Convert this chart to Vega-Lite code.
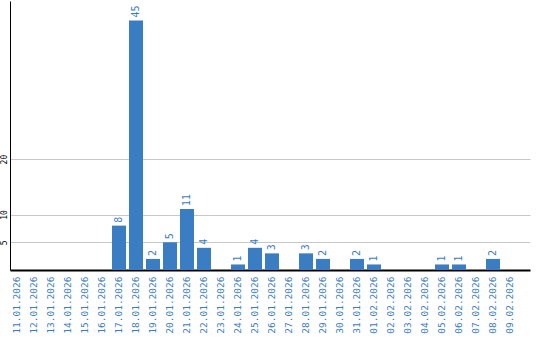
{
  "$schema": "https://vega.github.io/schema/vega-lite/v6.json",
  "width": 520,
  "height": 269,
  "autosize": "none",
  "padding": {"left": 10, "top": 1, "right": 10, "bottom": 70},
  "background": "white",
  "config": {"view": {"stroke": null}},
  "data": {"values": [
    {"date": "11.01.2026", "value": 0},
    {"date": "12.01.2026", "value": 0},
    {"date": "13.01.2026", "value": 0},
    {"date": "14.01.2026", "value": 0},
    {"date": "15.01.2026", "value": 0},
    {"date": "16.01.2026", "value": 0},
    {"date": "17.01.2026", "value": 8},
    {"date": "18.01.2026", "value": 45},
    {"date": "19.01.2026", "value": 2},
    {"date": "20.01.2026", "value": 5},
    {"date": "21.01.2026", "value": 11},
    {"date": "22.01.2026", "value": 4},
    {"date": "23.01.2026", "value": 0},
    {"date": "24.01.2026", "value": 1},
    {"date": "25.01.2026", "value": 4},
    {"date": "26.01.2026", "value": 3},
    {"date": "27.01.2026", "value": 0},
    {"date": "28.01.2026", "value": 3},
    {"date": "29.01.2026", "value": 2},
    {"date": "30.01.2026", "value": 0},
    {"date": "31.01.2026", "value": 2},
    {"date": "01.02.2026", "value": 1},
    {"date": "02.02.2026", "value": 0},
    {"date": "03.02.2026", "value": 0},
    {"date": "04.02.2026", "value": 0},
    {"date": "05.02.2026", "value": 1},
    {"date": "06.02.2026", "value": 1},
    {"date": "07.02.2026", "value": 0},
    {"date": "08.02.2026", "value": 2},
    {"date": "09.02.2026", "value": 0}
  ]},
  "encoding": {
    "x": {
      "field": "date", "type": "ordinal", "sort": null,
      "scale": {"paddingInner": 0.176, "paddingOuter": 0.382, "align": 0},
      "axis": {
        "title": null, "ticks": false, "domainColor": "#000000", "domainWidth": 2,
        "labelAngle": -90, "labelColor": "#3a7cc2", "labelFont": "DejaVu Sans Mono",
        "labelFontSize": 9.5, "labelPadding": 6, "grid": false
      }
    },
    "y": {
      "field": "value", "type": "quantitative",
      "scale": {"domain": [0, 48.5]},
      "axis": {
        "title": null, "ticks": false, "domainColor": "#000000", "domainWidth": 1,
        "values": [5, 10, 20], "labelAngle": -90, "labelAlign": "center",
        "labelBaseline": "bottom", "labelPadding": 2, "labelColor": "#000000",
        "labelFont": "DejaVu Sans Mono", "labelFontSize": 8, "grid": true,
        "gridColor": "#c8c8c8", "labelFlush": false
      }
    }
  },
  "layer": [
    {"mark": {"type": "bar", "color": "#3b7dc3"}},
    {
      "transform": [{"filter": "datum.value > 0"}],
      "mark": {"type": "text", "angle": -90, "align": "left", "baseline": "middle", "dx": 3,
               "color": "#3a7cc2", "font": "DejaVu Sans Mono", "fontSize": 10},
      "encoding": {"text": {"field": "value", "type": "quantitative"}}
    }
  ]
}
